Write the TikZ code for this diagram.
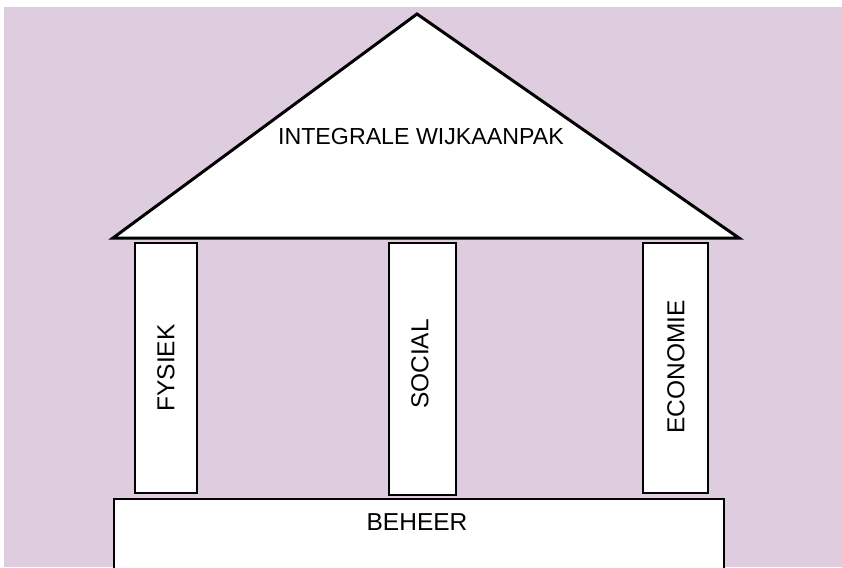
\documentclass[tikz,border=0pt]{standalone}
\usepackage{fontspec}
\setmainfont{Liberation Sans}
\definecolor{bgmauve}{RGB}{222,205,223}
\begin{document}
\begin{tikzpicture}[x=1pt,y=-1pt,
  part/.style={draw=black,fill=white,line join=miter},
  lbl/.style={inner sep=0pt,font=\fontsize{24.5}{28}\selectfont},
  pillarlbl/.style={lbl,rotate=90}]
\useasboundingbox (0,0) rectangle (842,567);
\clip (0,0) rectangle (842,567);
\fill[white] (0,0) rectangle (842,567);
\fill[bgmauve] (4,7) rectangle (842,567);
% roof
\draw[part,line width=3pt] (113,238) -- (417,14) -- (739,238) -- cycle;
\node[lbl,font=\fontsize{23.2}{28}\selectfont] (roof) at (421,137) {INTEGRALE WIJKAANPAK};
% pillars
\draw[part,line width=2pt] (135,243) rectangle (197,493);
\node[pillarlbl] (fysiek) at (166,368) {FYSIEK};
\draw[part,line width=2pt] (389,243) rectangle (456,495);
\node[pillarlbl] (sociaal) at (420,364) {SOCIAL};
\draw[part,line width=2pt] (643,243) rectangle (708,493);
\node[pillarlbl] (economie) at (676,367) {ECONOMIE};
% base
\draw[part,line width=2.5pt] (114,499) rectangle (724,580);
\node[lbl] (beheer) at (417,522.5) {BEHEER};
\end{tikzpicture}
\end{document}
